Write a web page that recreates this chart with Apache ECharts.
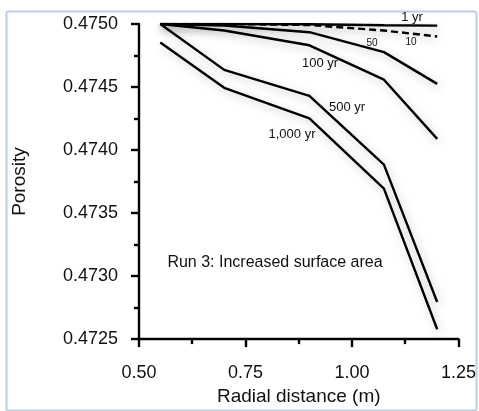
<!DOCTYPE html>
<html>
<head>
<meta charset="utf-8">
<script src="https://cdn.jsdelivr.net/npm/echarts@6/dist/echarts.min.js"></script>
<style>
html,body{margin:0;padding:0;background:#fff;}
#c{width:479px;height:411px;}
</style>
</head>
<body>
<div id="c"></div>
<script>
var radialDistance = [0.55, 0.70, 0.90, 1.075, 1.20];
var yr1    = [0.47500, 0.47500, 0.474998, 0.474990, 0.474987];
var yr10   = [0.47500, 0.47500, 0.474992, 0.474948, 0.474901];
var yr50   = [0.47500, 0.474988, 0.474935, 0.474777, 0.474525];
var yr100  = [0.47500, 0.474948, 0.474831, 0.474558, 0.474089];
var yr500  = [0.47500, 0.474636, 0.474429, 0.473884, 0.472794];
var yr1000 = [0.474854, 0.474494, 0.474252, 0.473694, 0.472578];
var xTicks = [0.50, 0.75, 1.00, 1.25];
var yTicks = [0.4725, 0.4730, 0.4735, 0.4740, 0.4745, 0.4750];

var FONT = 'Liberation Sans, Arial, sans-serif';
function pairs(ys){ return radialDistance.map(function(x,i){ return [x, ys[i]]; }); }
function line(name, ys, dashed){
  return {
    name: name, type: 'line', data: pairs(ys), symbol: 'none', silent: true,
    lineStyle: { color: '#000', width: 2.4, type: dashed ? [7,4] : 'solid',
      shadowColor: 'rgba(0,0,0,0.25)', shadowBlur: 8, shadowOffsetX: 2, shadowOffsetY: 3 }
  };
}
var chart = echarts.init(document.getElementById('c'), null, {renderer:'canvas'});
var axisText = { color: '#111', fontFamily: FONT, fontSize: 18 };
chart.setOption({
  animation: false,
  backgroundColor: '#fff',
  grid: { left: 139, right: 20, top: 24, bottom: 66, containLabel: false },
  xAxis: {
    type: 'value', min: xTicks[0], max: xTicks[xTicks.length-1], interval: 0.25,
    name: 'Radial distance (m)', nameLocation: 'middle', nameGap: 43,
    nameTextStyle: { color: '#111', fontFamily: FONT, fontSize: 19 },
    axisLine: { show: true, lineStyle: { color: '#000', width: 2.4 } },
    axisTick: { show: true, inside: false, length: 8, lineStyle: { color: '#000', width: 2.4 } },
    minorTick: { show: true, splitNumber: 2, length: 5, lineStyle: { color: '#000', width: 2.4 } },
    splitLine: { show: false },
    axisLabel: Object.assign({ margin: 25, formatter: function(v){ return v.toFixed(2); } }, axisText)
  },
  yAxis: {
    type: 'value', min: yTicks[0], max: yTicks[yTicks.length-1], interval: 0.0005,
    name: 'Porosity', nameLocation: 'middle', nameGap: 110,
    nameTextStyle: { color: '#111', fontFamily: FONT, fontSize: 19 },
    axisLine: { show: true, lineStyle: { color: '#000', width: 2.4 } },
    axisTick: { show: true, inside: false, length: 8, lineStyle: { color: '#000', width: 2.4 } },
    minorTick: { show: true, splitNumber: 2, length: 5, lineStyle: { color: '#000', width: 2.4 } },
    splitLine: { show: false },
    axisLabel: Object.assign({ margin: 21, formatter: function(v){ return v.toFixed(4); } }, axisText)
  },
  series: [
    line('1 yr', yr1, false),
    line('10 yr', yr10, true),
    line('50 yr', yr50, false),
    line('100 yr', yr100, false),
    line('500 yr', yr500, false),
    line('1,000 yr', yr1000, false)
  ],
  graphic: [
    { type: 'rect', left: 4, top: 9, shape: { width: 470, height: 399, r: 2 },
      style: { fill: 'none', stroke: '#b9cde9', lineWidth: 2 }, z: -1 },
    { type: 'text', x: 412, y: 17, style: { text: '1 yr', font: '13px ' + FONT, fill: '#111', align: 'center', verticalAlign: 'middle' } },
    { type: 'text', x: 372, y: 43, style: { text: '50', font: '10px ' + FONT, fill: '#111', align: 'center', verticalAlign: 'middle' } },
    { type: 'text', x: 411, y: 42, style: { text: '10', font: '10px ' + FONT, fill: '#111', align: 'center', verticalAlign: 'middle' } },
    { type: 'text', x: 320, y: 63, style: { text: '100 yr', font: '13px ' + FONT, fill: '#111', align: 'center', verticalAlign: 'middle' } },
    { type: 'text', x: 347, y: 107, style: { text: '500 yr', font: '13px ' + FONT, fill: '#111', align: 'center', verticalAlign: 'middle' } },
    { type: 'text', x: 292, y: 134, style: { text: '1,000 yr', font: '13px ' + FONT, fill: '#111', align: 'center', verticalAlign: 'middle' } },
    { type: 'text', x: 275, y: 263, style: { text: 'Run 3: Increased surface area', font: '16px ' + FONT, fill: '#111', align: 'center', verticalAlign: 'middle' } }
  ]
});
</script>
</body>
</html>
